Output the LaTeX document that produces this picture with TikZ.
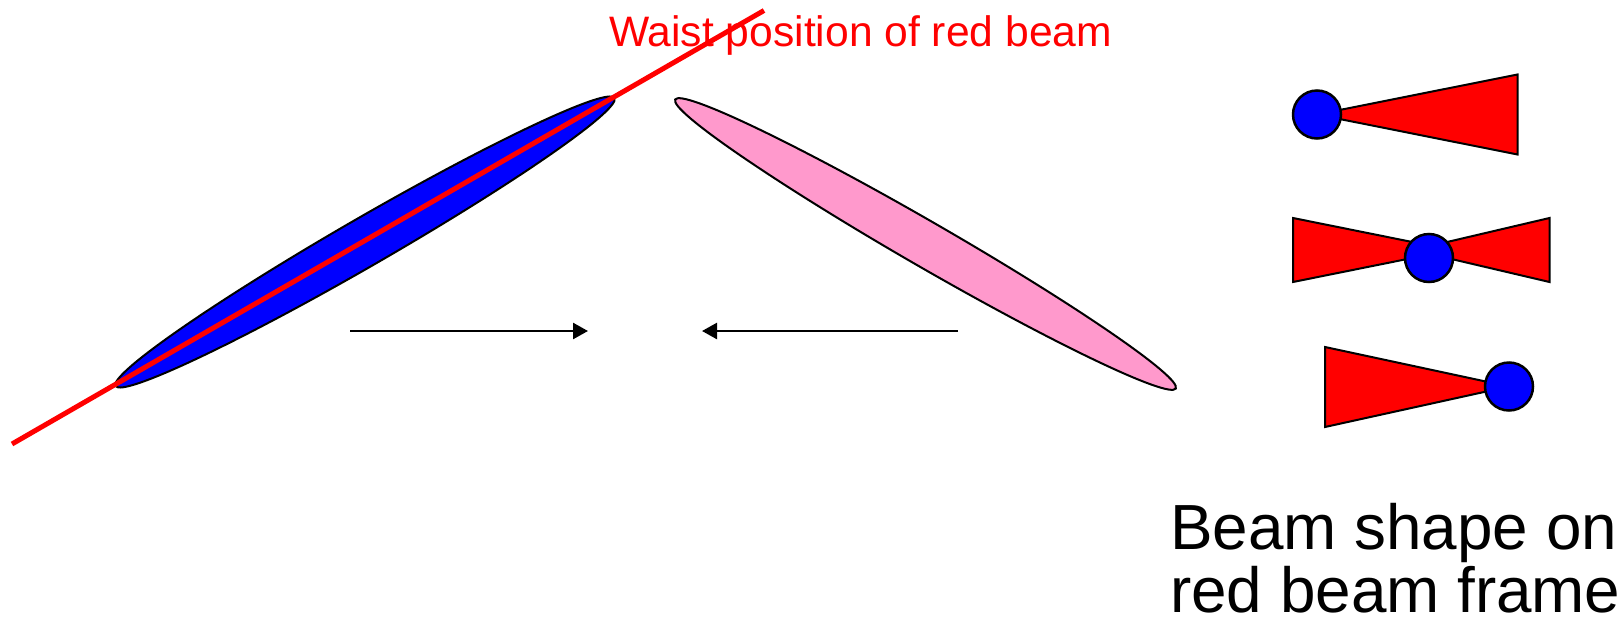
\documentclass[tikz,border=0pt]{standalone}
\usepackage{fontspec}
\setmainfont{Liberation Sans}
\usepackage{tikz}
\usetikzlibrary{shapes.geometric,arrows.meta,positioning}
\definecolor{beamblue}{RGB}{0,0,255}
\definecolor{beamred}{RGB}{255,0,0}
\definecolor{beampink}{RGB}{255,153,204}

\begin{document}
\begin{tikzpicture}[x=1pt,y=-1pt]
  \tikzstyle{bunch}=[ellipse,draw=black,line width=2pt,inner sep=0pt]
  \tikzstyle{spot}=[circle,draw=black,line width=2.5pt,fill=beamblue,inner sep=0pt,minimum size=48pt]
  \tikzstyle{cone}=[draw=black,line width=2pt,fill=beamred,line join=miter]
  \tikzstyle{motion}=[line width=2.5pt,-{Triangle[length=15pt,width=16pt]}]
  \tikzstyle{waist}=[draw=beamred,line width=5pt]

  \useasboundingbox (0,0) rectangle (1623,627);

  % the two bunches
  \node[bunch,fill=beamblue,minimum width=576pt,minimum height=48pt,rotate=30] (blue) at (365,242) {};
  \node[bunch,fill=beampink,minimum width=578pt,minimum height=45pt,rotate=-30] (pink) at (925.5,244) {};

  \node[anchor=base west,inner sep=0pt,text=beamred,font=\fontsize{42.6}{50}\selectfont] (waistlabel) at (609,46) {Waist position of red beam};

  \coordinate (waistlo) at (12,444);
  \coordinate (waisthi) at (764,10.5);
  \draw[waist] (waistlo) -- (waisthi);

  \coordinate (bluefrom) at (350,331);
  \coordinate (blueto) at (588,331);
  \coordinate (pinkfrom) at (958,331);
  \coordinate (pinkto) at (702,331);
  \draw[motion] (bluefrom) -- (blueto);
  \draw[motion] (pinkfrom) -- (pinkto);

  % beam shape seen from the red beam
  \coordinate (tipA) at (1317,114.5);
  \draw[cone] (tipA) -- (1517.5,74.5) -- (1517.5,154.5) -- cycle;
  \node[spot] (spotA) at (tipA) {};

  \draw[cone] (1452,250) -- (1293,218) -- (1293,282) -- cycle;
  \draw[cone] (1413,250) -- (1549.5,218) -- (1549.5,282) -- cycle;
  \node[spot] (spotB) at (1429,258) {};

  \coordinate (tipC) at (1509,386.5);
  \draw[cone] (tipC) -- (1325,347) -- (1325,427) -- cycle;
  \node[spot] (spotC) at (tipC) {};

  \node[anchor=base west,inner sep=0pt,font=\fontsize{63.8}{64}\selectfont] (framelabel) at (1170,549) {Beam shape on};
  \node[anchor=base west,inner sep=0pt,font=\fontsize{63.8}{64}\selectfont] (framelabelb) at (1170,612) {red beam frame};
\end{tikzpicture}
\end{document}
